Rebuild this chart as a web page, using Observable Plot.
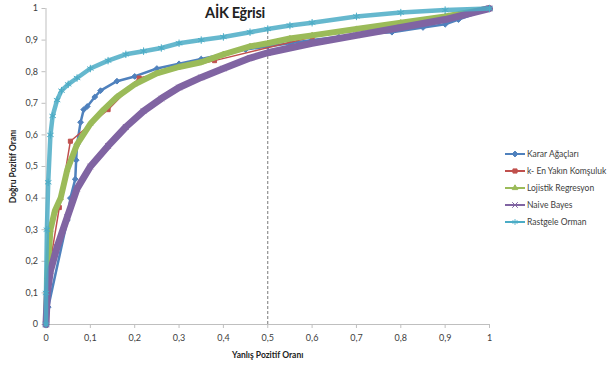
<!DOCTYPE html>
<html>
<head>
<meta charset="utf-8">
<script src="https://cdn.jsdelivr.net/npm/d3@7"></script>
<script src="https://cdn.jsdelivr.net/npm/@observablehq/plot@0.6"></script>
<style>
  html, body { margin: 0; padding: 0; background: #fff; }
  #wrap { position: relative; width: 608px; height: 367px; overflow: hidden; font-family: Lato, "Open Sans", sans-serif; }
  #title { position: absolute; left: 0; width: 470px; text-align: center; top: 4px; font-weight: bold; font-size: 14.5px; letter-spacing: -0.3px; color: #222; }
  #legend { position: absolute; left: 505px; top: 145px; font-size: 8.5px; color: #404040; white-space: nowrap; }
  #legend .row { height: 17px; display: flex; align-items: center; }
  #legend svg { margin-right: 2px; }
  svg [aria-label="y-axis label"] text, svg [aria-label="x-axis label"] text { font-weight: bold; fill: #222; }
</style>
</head>
<body>
<div id="wrap">
  <div id="chart"></div>
  <div id="title"></div>
  <div id="legend"></div>
</div>
<script>
// ---- Data ----
const titleText = "AİK Eğrisi";
const xLabel = "Yanlış Pozitif Oranı";
const yLabel = "Doğru Pozitif Oranı";
const seriesNames = ["Karar Ağaçları", "k- En Yakın Komşuluk", "Lojistik Regresyon", "Naive Bayes", "Rastgele Orman"];
const seriesColors = ["#4F81BD", "#C0504D", "#9BBB59", "#8064A2", "#4BACC6"];
const seriesSymbols = ["diamond2", "square2", "triangle2", "times", "asterisk"];
const tickValues = [0, 0.1, 0.2, 0.3, 0.4, 0.5, 0.6, 0.7, 0.8, 0.9, 1];
const cutoffX = 0.5;
const cutoffY = 0.935;

const kararFPR = [0, 0.005, 0.048, 0.055, 0.066, 0.068, 0.07, 0.078, 0.085, 0.093, 0.11, 0.123, 0.16, 0.2, 0.25, 0.3, 0.35, 0.4, 0.45, 0.5, 0.55, 0.6, 0.66, 0.72, 0.78, 0.85, 0.9, 0.93, 1];
const kararTPR = [0, 0.055, 0.33, 0.40, 0.46, 0.52, 0.57, 0.64, 0.68, 0.69, 0.72, 0.74, 0.77, 0.785, 0.81, 0.825, 0.84, 0.855, 0.87, 0.88, 0.89, 0.9, 0.91, 0.92, 0.925, 0.94, 0.95, 0.965, 1];

const knnFPR = [0, 0.01, 0.03, 0.055, 0.14, 0.21, 0.38, 0.6, 1];
const knnTPR = [0, 0.2, 0.37, 0.58, 0.68, 0.78, 0.835, 0.91, 1];

const lojFPR = [0, 0.003, 0.01, 0.02, 0.033, 0.048, 0.07, 0.1, 0.13, 0.16, 0.2, 0.25, 0.3, 0.35, 0.4, 0.46, 0.5, 0.55, 0.6, 0.7, 0.8, 0.9, 1];
const lojTPR = [0, 0.15, 0.3, 0.36, 0.40, 0.49, 0.57, 0.635, 0.68, 0.72, 0.76, 0.795, 0.815, 0.83, 0.855, 0.88, 0.89, 0.905, 0.915, 0.935, 0.955, 0.975, 1];

const nbFPR = [0, 0.003, 0.01, 0.025, 0.048, 0.07, 0.1, 0.14, 0.18, 0.22, 0.26, 0.3, 0.35, 0.4, 0.46, 0.5, 0.55, 0.6, 0.7, 0.8, 0.9, 1];
const nbTPR = [0, 0.1, 0.17, 0.245, 0.34, 0.43, 0.5, 0.565, 0.625, 0.675, 0.715, 0.75, 0.782, 0.81, 0.843, 0.86, 0.875, 0.89, 0.915, 0.94, 0.965, 1];

const rfFPR = [0, 0, 0.002, 0.005, 0.01, 0.015, 0.025, 0.035, 0.05, 0.07, 0.1, 0.14, 0.18, 0.22, 0.26, 0.3, 0.35, 0.4, 0.46, 0.5, 0.55, 0.6, 0.7, 0.8, 0.9, 1];
const rfTPR = [0, 0.1, 0.3, 0.45, 0.6, 0.66, 0.71, 0.74, 0.76, 0.78, 0.81, 0.835, 0.855, 0.865, 0.875, 0.89, 0.90, 0.91, 0.925, 0.935, 0.946, 0.955, 0.975, 0.987, 0.995, 1];

// ---- Build table ----
const fprs = [kararFPR, knnFPR, lojFPR, nbFPR, rfFPR];
const tprs = [kararTPR, knnTPR, lojTPR, nbTPR, rfTPR];
const widths = [2.5, 1.5, 6, 7, 4.5];
const rows = [];
seriesNames.forEach((name, i) => fprs[i].forEach((x, j) => rows.push({series: name, x, y: tprs[i][j]})));

const fmt = d => d === 0 ? "0" : d === 1 ? "1" : d.toFixed(1).replace(".", ",");

const marks = [
  Plot.ruleX([0], {stroke: "#bfbfbf"}),
  Plot.ruleY([0], {stroke: "#bfbfbf"}),
  Plot.ruleX([cutoffX], {y1: 0, y2: cutoffY, stroke: "#555", strokeDasharray: "3,2", strokeWidth: 0.8})
];
seriesNames.forEach((name, i) => {
  const data = rows.filter(r => r.series === name);
  marks.push(Plot.line(data, {x: "x", y: "y", stroke: seriesColors[i], strokeWidth: widths[i], strokeOpacity: i === 4 ? 0.85 : 1, curve: "linear"}));
  marks.push(Plot.dot(data, {x: "x", y: "y", symbol: () => seriesSymbols[i], r: i === 4 ? 3.5 : 2.6,
    fill: (i === 3 || i === 4) ? "none" : seriesColors[i], stroke: seriesColors[i], strokeWidth: 1}));
});

const chart = Plot.plot({
  width: 608, height: 367,
  marginLeft: 45.5, marginRight: 119, marginTop: 8, marginBottom: 43,
  style: {fontFamily: "Lato, 'Open Sans', sans-serif", fontSize: "9px", color: "#404040", background: "#fff"},
  x: {domain: [0, 1], ticks: tickValues, tickFormat: fmt, tickSize: 4, tickPadding: 6, label: xLabel, labelAnchor: "center", labelArrow: "none", labelOffset: 33},
  y: {domain: [0, 1], ticks: tickValues, tickFormat: fmt, tickSize: 4, tickPadding: 4, label: yLabel, labelAnchor: "center", labelArrow: "none", labelOffset: 36},
  marks
});
chart.querySelectorAll('[aria-label="x-axis tick"], [aria-label="y-axis tick"]').forEach(g => g.setAttribute("stroke", "#bfbfbf"));
chart.querySelectorAll('[aria-label="x-axis label"], [aria-label="y-axis label"]').forEach(g => g.setAttribute("font-size", "8.5px"));
document.getElementById("chart").appendChild(chart);

document.getElementById("title").textContent = titleText;

// ---- Legend ----
const legend = document.getElementById("legend");
seriesNames.forEach((name, i) => {
  const row = document.createElement("div");
  row.className = "row";
  const s = d3.create("svg").attr("width", 20).attr("height", 10);
  s.append("line").attr("x1", 0).attr("x2", 20).attr("y1", 5).attr("y2", 5).attr("stroke", seriesColors[i]).attr("stroke-width", 2);
  const sym = {diamond2: d3.symbolDiamond2, square2: d3.symbolSquare2, triangle2: d3.symbolTriangle2, times: d3.symbolTimes, asterisk: d3.symbolAsterisk}[seriesSymbols[i]];
  s.append("path").attr("transform", "translate(10,5)").attr("d", d3.symbol(sym, 22)())
    .attr("fill", (i >= 3) ? "none" : seriesColors[i]).attr("stroke", seriesColors[i]).attr("stroke-width", 1);
  row.appendChild(s.node());
  const t = document.createElement("span");
  t.textContent = name;
  row.appendChild(t);
  legend.appendChild(row);
});
</script>
</body>
</html>
